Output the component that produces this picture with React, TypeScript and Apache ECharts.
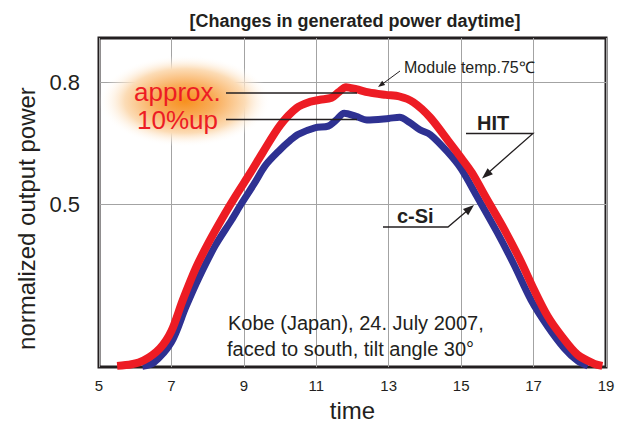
import React, { useEffect, useRef } from 'react';
import * as echarts from 'echarts';

// x axis (time of day, hours)
const xMin = 5;
const xMax = 19;
const xStep = 2;
// y axis (normalized output power)
const yMin = 0.1;
const yMax = 0.91;
const yTickValues = [0.5, 0.8];

// HIT module (red)
const hitTime = [5.5, 5.9, 6.23, 6.68, 7.0, 7.31, 7.67, 8.03, 8.48, 8.75, 9.2, 9.52, 10.0, 10.46, 10.83, 11.1, 11.42, 11.62, 11.82, 12.1, 12.45, 12.92, 13.3, 13.68, 14.14, 14.66, 15.0, 15.3, 15.68, 16.19, 16.65, 17.02, 17.39, 17.76, 18.22, 18.68, 18.9];
const hitPower = [0.103, 0.107, 0.116, 0.146, 0.189, 0.264, 0.343, 0.407, 0.478, 0.518, 0.581, 0.628, 0.695, 0.738, 0.753, 0.758, 0.763, 0.777, 0.789, 0.784, 0.776, 0.77, 0.766, 0.752, 0.715, 0.655, 0.615, 0.578, 0.518, 0.439, 0.36, 0.289, 0.225, 0.178, 0.13, 0.108, 0.103];

// c-Si module (blue)
const csiTime = [6.2, 6.5, 7.0, 7.4, 7.76, 8.21, 8.66, 8.93, 9.29, 9.6, 10.0, 10.28, 10.5, 10.96, 11.33, 11.55, 11.77, 12.1, 12.4, 13.0, 13.3, 13.58, 13.86, 14.15, 14.62, 15.0, 15.45, 16.0, 16.46, 16.93, 17.39, 17.85, 18.22, 18.5];
const csiPower = [0.102, 0.11, 0.161, 0.248, 0.32, 0.399, 0.462, 0.502, 0.552, 0.597, 0.635, 0.658, 0.673, 0.689, 0.693, 0.708, 0.725, 0.717, 0.708, 0.712, 0.715, 0.702, 0.684, 0.672, 0.63, 0.588, 0.518, 0.431, 0.352, 0.265, 0.2, 0.146, 0.115, 0.103];

const FONT = '"Liberation Sans", Arial, Helvetica, sans-serif';
const INK = '#231f20';
const RED = '#ed1c24';
const BLUE = '#2e3192';

function arrowHead(x1: number, y1: number, x2: number, y2: number, len = 10, w = 3.5) {
  const dx = x2 - x1;
  const dy = y2 - y1;
  const d = Math.sqrt(dx * dx + dy * dy);
  const ux = dx / d;
  const uy = dy / d;
  const bx = x2 - ux * len;
  const by = y2 - uy * len;
  return {
    type: 'polygon',
    z: 10,
    shape: { points: [[x2, y2], [bx - uy * w, by + ux * w], [bx + uy * w, by - ux * w]] },
    style: { fill: INK },
  };
}

function txt(text: string, x: number, y: number, size: number, color: string, weight = 'normal', align = 'left') {
  return {
    type: 'text',
    z: 10,
    x,
    y,
    style: {
      text,
      fill: color,
      font: `${weight} ${size}px ${FONT}`,
      textAlign: align,
      textVerticalAlign: 'middle',
    },
  };
}

export default function App() {
  const ref = useRef<HTMLDivElement>(null);
  useEffect(() => {
    const chart = echarts.init(ref.current!, null, { renderer: 'svg' });
    const hitData = hitTime.map((t, i) => [t, hitPower[i]]);
    const csiData = csiTime.map((t, i) => [t, csiPower[i]]);
    chart.setOption({
      animation: false,
      backgroundColor: '#ffffff',
      title: {
        text: '[Changes in generated power daytime]',
        left: 350,
        top: 7,
        textAlign: 'center',
        textStyle: { fontFamily: FONT, fontSize: 18, fontWeight: 'bold', color: INK },
      },
      grid: {
        left: 99,
        right: 16,
        top: 38,
        bottom: 49,
        show: true,
        borderColor: INK,
        borderWidth: 3,
        backgroundColor: 'transparent',
      },
      xAxis: {
        type: 'value',
        min: xMin,
        max: xMax,
        interval: xStep,
        axisLine: { show: false },
        axisTick: { show: false },
        axisLabel: { color: INK, fontSize: 15, fontFamily: FONT, margin: 11 },
        splitLine: { show: true, lineStyle: { color: '#a3a3a3', width: 1 } },
        name: 'time',
        nameLocation: 'middle',
        nameGap: 25,
        nameTextStyle: { color: INK, fontSize: 24, fontFamily: FONT },
      },
      yAxis: {
        type: 'value',
        min: yMin,
        max: yMax,
        axisLine: { show: false },
        axisTick: { show: false, customValues: yTickValues },
        axisLabel: {
          customValues: yTickValues,
          color: INK,
          fontSize: 22,
          fontFamily: FONT,
          margin: 19,
          formatter: (v: number) => v.toFixed(1),
        },
        splitLine: { show: true, lineStyle: { color: '#a3a3a3', width: 1 } },
        name: 'normalized output power',
        nameLocation: 'middle',
        nameGap: 61,
        nameTextStyle: { color: INK, fontSize: 24, fontFamily: FONT, padding: [0, 32, 0, 0] },
      },
      series: [
        {
          type: 'line',
          name: 'c-Si',
          data: csiData,
          smooth: 0.3,
          symbol: 'none',
          z: 3,
          lineStyle: { color: BLUE, width: 7 },
        },
        {
          type: 'line',
          name: 'HIT',
          data: hitData,
          smooth: 0.3,
          symbol: 'none',
          z: 4,
          lineStyle: { color: RED, width: 8 },
        },
      ],
      graphic: [
        {
          type: 'ellipse',
          z: 1,
          shape: { cx: 185, cy: 101, rx: 86, ry: 46 },
          style: {
            fill: new echarts.graphic.RadialGradient(0.5, 0.5, 0.5, [
              { offset: 0, color: '#f7901e' },
              { offset: 0.35, color: '#f9ad5a' },
              { offset: 0.7, color: '#fcdcb6' },
              { offset: 1, color: 'rgba(255,255,255,0)' },
            ]),
          },
        },
        txt('approx.', 134, 92, 26, RED),
        txt('10%up', 137, 120, 26, RED),
        { type: 'line', z: 10, shape: { x1: 226, y1: 93, x2: 357, y2: 93 }, style: { stroke: INK, lineWidth: 1.6 } },
        { type: 'line', z: 10, shape: { x1: 226, y1: 119.5, x2: 357, y2: 119.5 }, style: { stroke: INK, lineWidth: 1.6 } },
        txt('Module temp.75\u2103', 404, 67, 16, INK),
        { type: 'line', z: 10, shape: { x1: 400, y1: 71, x2: 381, y2: 85 }, style: { stroke: INK, lineWidth: 1 } },
        arrowHead(400, 71, 378, 87, 7, 2.5),
        txt('HIT', 477, 123, 20, INK, 'bold'),
        { type: 'polyline', z: 10, shape: { points: [[466, 133.5], [533, 133.5], [488, 173]] }, style: { stroke: INK, lineWidth: 1.3, fill: null } },
        arrowHead(533, 133.5, 482, 178.5, 11, 4),
        txt('c-Si', 397, 216, 20, INK, 'bold'),
        { type: 'polyline', z: 10, shape: { points: [[383, 227], [448, 227], [468, 210]] }, style: { stroke: INK, lineWidth: 1.3, fill: null } },
        arrowHead(448, 227, 474, 205, 11, 4),
        txt('Kobe (Japan), 24. July 2007,', 228, 323, 20, INK),
        txt('faced to south, tilt angle 30\u00b0', 227, 349, 20, INK),
      ],
    });
    return () => chart.dispose();
  }, []);
  return <div ref={ref} style={{ position: 'fixed', left: 0, top: 0, width: 622, height: 427 }} />;
}
